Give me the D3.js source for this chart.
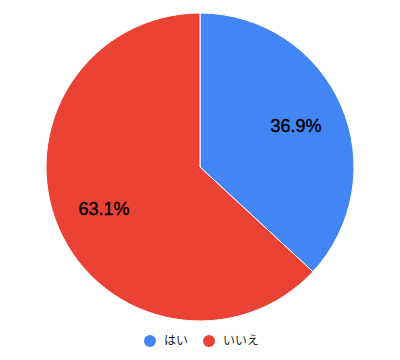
<!DOCTYPE html>
<html>
<head>
<meta charset="utf-8">
<script src="https://cdn.jsdelivr.net/npm/d3@7"></script>
<style>
  body { margin: 0; background: #fff; }
  svg { display: block; }
</style>
</head>
<body>
<div id="chart"></div>
<script>
// 回答の割合
var labels = ['はい', 'いいえ'];
var values = [36.9, 63.1];
var colors = ['#4285f4', '#ea4335'];

var width = 400, height = 360;
var cx = 200, cy = 167, radius = 154;

var svg = d3.select('#chart').append('svg')
  .attr('width', width)
  .attr('height', height);

var pie = d3.pie().sort(null).value(function(d) { return d; });
var arcs = pie(values);

var arc = d3.arc().innerRadius(0).outerRadius(radius);
var labelArc = d3.arc().innerRadius(radius * 0.68).outerRadius(radius * 0.68);

var g = svg.append('g').attr('transform', 'translate(' + cx + ',' + cy + ')');

g.selectAll('path.slice').data(arcs).enter().append('path')
  .attr('class', 'slice')
  .attr('d', arc)
  .attr('fill', function(d, i) { return colors[i]; })
  .attr('stroke', '#fff')
  .attr('stroke-width', 1);

g.selectAll('text.pct').data(arcs).enter().append('text')
  .attr('class', 'pct')
  .attr('transform', function(d) { return 'translate(' + labelArc.centroid(d) + ')'; })
  .attr('text-anchor', 'middle')
  .attr('dy', '0.36em')
  .attr('font-family', 'Arial, "Liberation Sans", sans-serif')
  .attr('font-size', 18)
  .attr('fill', '#000')
  .attr('stroke', '#000')
  .attr('stroke-width', 0.4)
  .text(function(d) { return d.data.toFixed(1) + '%'; });

// 凡例
var legendX = [150, 209];
var legend = svg.selectAll('g.legend').data(labels).enter().append('g')
  .attr('class', 'legend')
  .attr('transform', function(d, i) { return 'translate(' + legendX[i] + ',341)'; });

legend.append('circle')
  .attr('r', 6)
  .attr('fill', function(d, i) { return colors[i]; });

legend.append('text')
  .attr('x', 14)
  .attr('dy', '0.35em')
  .attr('font-family', '"Noto Sans CJK JP", sans-serif')
  .attr('font-size', 12)
  .attr('fill', '#222')
  .text(function(d) { return d; });
</script>
</body>
</html>
